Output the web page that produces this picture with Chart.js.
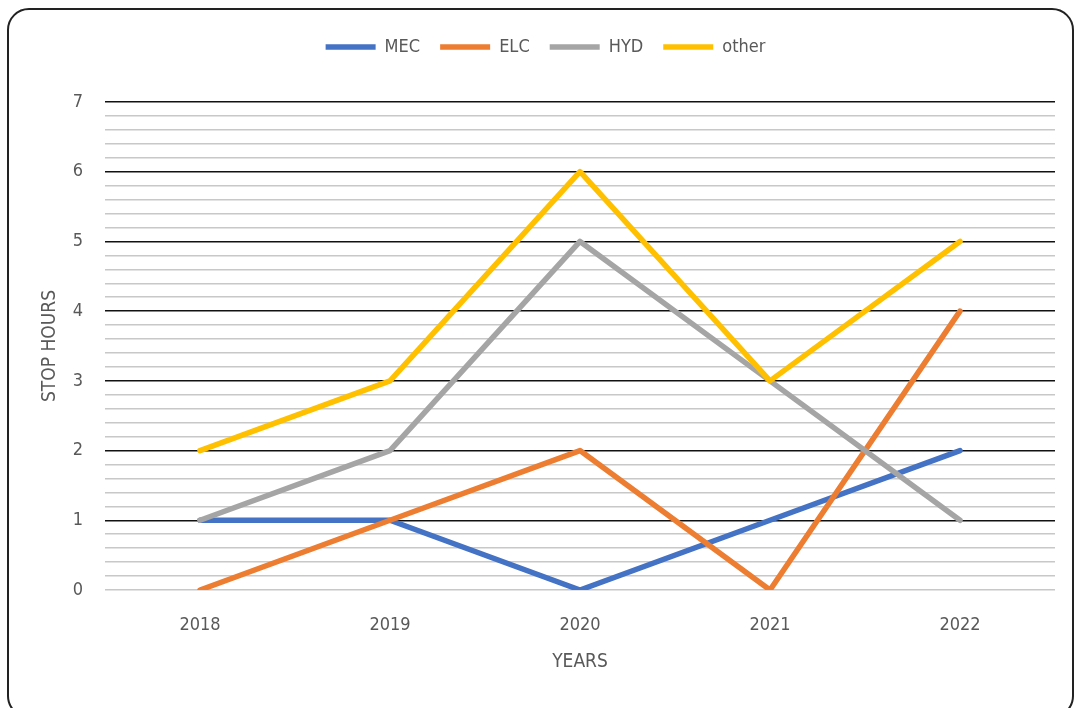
<!DOCTYPE html>
<html>
<head>
<meta charset="utf-8">
<script src="https://cdn.jsdelivr.net/npm/chart.js@4.4.1/dist/chart.umd.min.js"></script>
<style>
  html, body { margin: 0; padding: 0; background: #fff; }
  #wrap { position: relative; width: 1078px; height: 708px; overflow: hidden; }
  #frame {
    position: absolute; left: 7px; top: 8px; width: 1067px; height: 710px;
    border: 2px solid #222; border-radius: 22px; box-sizing: border-box;
  }
  #cv { position: absolute; left: 0; top: 0; }
</style>
</head>
<body>
<div id="wrap">
  <div id="frame"></div>
  <canvas id="cv" width="1078" height="708"></canvas>
</div>
<script>
"use strict";

var years = ['2018', '2019', '2020', '2021', '2022'];
var mec   = [1, 1, 0, 1, 2];
var elc   = [0, 1, 2, 0, 4];
var hyd   = [1, 2, 5, 3, 1];
var other = [2, 3, 6, 3, 5];

var FONT = "'Liberation Sans Narrow', 'DejaVu Sans Condensed', 'Open Sans', sans-serif";

function isWhole(v) {
  return Math.abs(v - Math.round(v)) < 1e-6;
}

function series(label, data, color, order) {
  return {
    label: label,
    data: data,
    borderColor: color,
    backgroundColor: color,
    borderWidth: 5.5,
    borderCapStyle: 'round',
    borderJoinStyle: 'round',
    pointRadius: 0,
    pointHoverRadius: 0,
    tension: 0,
    order: order
  };
}

// extra room under the legend
var legendGap = {
  id: 'legendGap',
  beforeInit: function (chart) {
    var fit = chart.legend.fit;
    chart.legend.fit = function () {
      fit.bind(chart.legend)();
      this.height += 36;
    };
  }
};

var config = {
  type: 'line',
  data: {
    labels: years,
    datasets: [
      series('MEC', mec, '#4472C4', 4),
      series('ELC', elc, '#ED7D31', 3),
      series('HYD', hyd, '#A5A5A5', 2),
      series('other', other, '#FFC000', 1)
    ]
  },
  plugins: [legendGap],
  options: {
    responsive: false,
    animation: false,
    layout: { padding: { top: 18, left: 36, right: 23, bottom: 30 } },
    plugins: {
      tooltip: { enabled: false },
      legend: {
        position: 'top',
        labels: {
          usePointStyle: true,
          pointStyle: 'line',
          pointStyleWidth: 50,
          padding: 20,
          color: '#595959',
          font: { family: FONT, size: 18 },
          sort: function (a, b) { return a.datasetIndex - b.datasetIndex; }
        }
      }
    },
    scales: {
      x: {
        offset: true,
        afterFit: function (axis) { axis.height = 88; },
        grid: { display: false, drawTicks: false },
        border: { display: false },
        ticks: { color: '#595959', font: { family: FONT, size: 18 }, padding: 25 },
        title: {
          display: true, text: 'YEARS', color: '#595959',
          font: { family: FONT, size: 19 }, padding: { top: 0, bottom: 5 }
        }
      },
      y: {
        min: 0,
        max: 7,
        afterFit: function (axis) { axis.width = 69; },
        border: { display: false },
        grid: {
          drawTicks: false,
          lineWidth: 1.5,
          color: function (ctx) {
            var v = ctx.tick ? ctx.tick.value : 0;
            if (isWhole(v) && Math.round(v) !== 0) return '#111';
            return '#c8c8c8';
          }
        },
        ticks: {
          stepSize: 0.2,
          autoSkip: false,
          padding: 22,
          color: '#595959',
          font: { family: FONT, size: 18 },
          callback: function (v) { return isWhole(v) ? String(Math.round(v)) : ''; }
        },
        title: {
          display: true, text: 'STOP HOURS', color: '#595959',
          font: { family: FONT, size: 19 }, padding: { top: 3, bottom: 0 }
        }
      }
    }
  }
};

window.onload = function () {
  var ctx = document.getElementById('cv').getContext('2d');
  window.stopChart = new Chart(ctx, config);
};
</script>
</body>
</html>
